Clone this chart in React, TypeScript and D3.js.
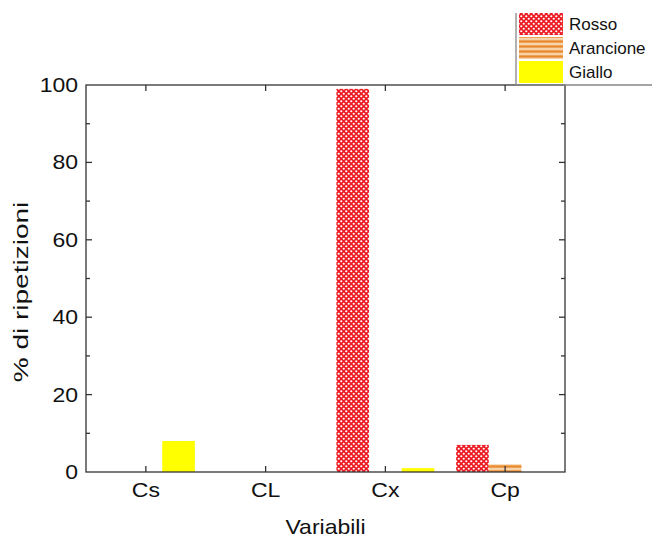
import React, { useRef, useEffect } from "react";
import * as d3 from "d3";

const categories = ["Cs", "CL", "Cx", "Cp"];
const seriesNames = ["Rosso", "Arancione", "Giallo"];
const rosso = [0, 0, 99, 7];
const arancione = [0, 0, 0, 2];
const giallo = [8, 0, 1, 0];
const yTicks = [0, 20, 40, 60, 80, 100];
const yMinorTicks = [10, 30, 50, 70, 90];

const App = () => {
  const ref = useRef<SVGSVGElement>(null);

  useEffect(() => {
    const svg = d3.select(ref.current);
    svg.selectAll("*").remove();

    const width = 652;
    const height = 539;
    const left = 86;
    const right = 565;
    const top = 85;
    const bottom = 472;
    const font = "'Liberation Sans', Arial, sans-serif";
    const axisColor = "#333";
    const stretch = 1.15; // the reference text is a bit wider than tall

    svg.attr("width", width).attr("height", height);

    // patterns
    const defs = svg.append("defs");
    const dots = defs
      .append("pattern")
      .attr("id", "rosso")
      .attr("patternUnits", "userSpaceOnUse")
      .attr("width", 5)
      .attr("height", 5);
    dots.append("rect").attr("width", 5).attr("height", 5).attr("fill", "#ec1c24");
    dots.append("circle").attr("cx", 1.25).attr("cy", 1.25).attr("r", 1.1).attr("fill", "#fff");
    dots.append("circle").attr("cx", 3.75).attr("cy", 3.75).attr("r", 1.1).attr("fill", "#fff");

    const stripes = defs
      .append("pattern")
      .attr("id", "arancione")
      .attr("patternUnits", "userSpaceOnUse")
      .attr("width", 6)
      .attr("height", 5)
      .attr("y", 0.5);
    stripes.append("rect").attr("width", 6).attr("height", 5).attr("fill", "#e8892e");
    stripes.append("rect").attr("y", 2.5).attr("width", 6).attr("height", 2).attr("fill", "#fdebd3");

    const fills = ["url(#rosso)", "url(#arancione)", "#ffff00"];
    const series = [rosso, arancione, giallo];

    const x = d3.scaleBand().domain(categories).range([left, right]).padding(0);
    const xs = d3.scaleBand().domain(seriesNames).range([-49, 49]).padding(0);
    const y = d3.scaleLinear().domain([0, 100]).range([bottom, top]);
    const cx = (c: string) => (x(c) as number) + x.bandwidth() / 2;

    const bars = svg.append("g");
    seriesNames.forEach((s, si) => {
      bars
        .selectAll(`.bar-${si}`)
        .data(categories.map((c, i) => ({ c, v: series[si][i] })).filter((d) => d.v > 0))
        .join("rect")
        .attr("class", `bar-${si}`)
        .attr("x", (d) => cx(d.c) + (xs(s) as number))
        .attr("width", xs.bandwidth())
        .attr("y", (d) => y(d.v))
        .attr("height", (d) => y(0) - y(d.v))
        .attr("fill", fills[si]);
    });

    // frame and ticks
    const axes = svg.append("g").attr("stroke", axisColor).attr("stroke-width", 1.3);
    axes
      .append("rect")
      .attr("x", left)
      .attr("y", top)
      .attr("width", right - left)
      .attr("height", bottom - top)
      .attr("fill", "none");

    const tickLines = (vals: number[], len: number) => {
      vals.forEach((v) => {
        axes.append("line").attr("x1", left).attr("x2", left + len).attr("y1", y(v)).attr("y2", y(v));
        axes.append("line").attr("x1", right).attr("x2", right - len).attr("y1", y(v)).attr("y2", y(v));
      });
    };
    tickLines(yTicks.slice(1, -1), 6);
    tickLines(yMinorTicks, 4);
    categories.forEach((c) => {
      axes.append("line").attr("x1", cx(c)).attr("x2", cx(c)).attr("y1", bottom).attr("y2", bottom - 6);
      axes.append("line").attr("x1", cx(c)).attr("x2", cx(c)).attr("y1", top).attr("y2", top + 6);
    });

    const text = svg.append("g").attr("font-family", font).attr("fill", "#111");
    text
      .selectAll(".ylab")
      .data(yTicks)
      .join("text")
      .attr("class", "ylab")
      .attr("transform", (d) => `translate(${left - 8},${y(d)}) scale(${stretch},1)`)
      .attr("dy", "0.35em")
      .attr("text-anchor", "end")
      .attr("font-size", 20)
      .text((d) => d);

    text
      .selectAll(".xlab")
      .data(categories)
      .join("text")
      .attr("class", "xlab")
      .attr("transform", (d) => `translate(${cx(d)},497) scale(${stretch},1)`)
      .attr("text-anchor", "middle")
      .attr("font-size", 20)
      .text((d) => d);

    text
      .append("text")
      .attr("transform", `translate(${(left + right) / 2},534) scale(${stretch},1)`)
      .attr("text-anchor", "middle")
      .attr("font-size", 20)
      .text("Variabili");

    text
      .append("text")
      .attr("transform", `translate(28, 292) rotate(-90) scale(1.4,1)`)
      .attr("text-anchor", "middle")
      .attr("font-size", 20)
      .text("% di ripetizioni");

    // legend
    const legend = svg.append("g").attr("font-family", font);
    legend
      .append("path")
      .attr("d", `M516,13V${top}H${width}`)
      .attr("fill", "none")
      .attr("stroke", "#888")
      .attr("stroke-width", 1.3);
    seriesNames.forEach((s, i) => {
      const ly = 13 + i * 24;
      legend
        .append("rect")
        .attr("x", 519)
        .attr("y", ly)
        .attr("width", 44)
        .attr("height", 22)
        .attr("fill", fills[i]);
      legend
        .append("text")
        .attr("x", 569)
        .attr("y", ly + 11)
        .attr("dy", "0.35em")
        .attr("font-size", 17)
        .attr("fill", "#111")
        .text(s);
    });
  }, []);

  return <svg ref={ref} style={{ display: "block", position: "absolute", left: 0, top: 0 }} />;
};

export default App;
